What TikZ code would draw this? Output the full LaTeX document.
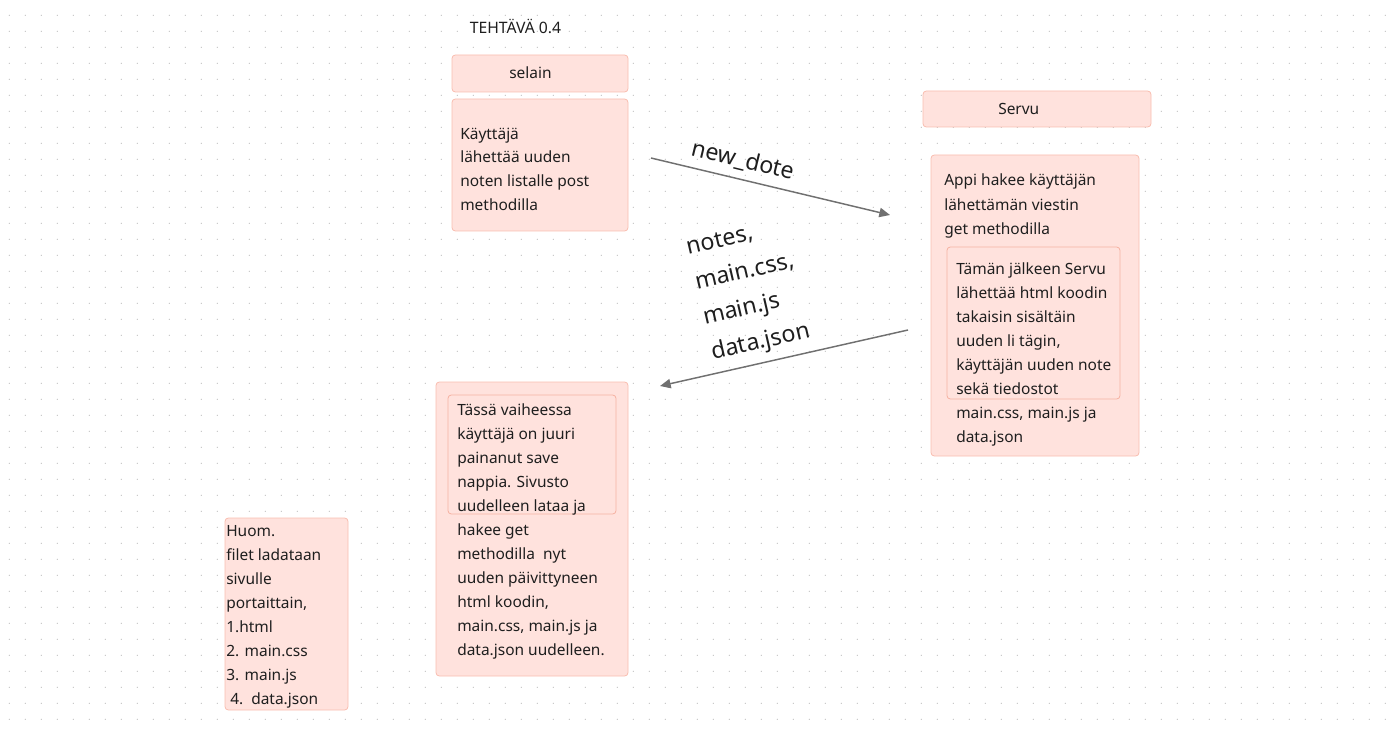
\documentclass[tikz,border=0pt]{standalone}
\usepackage{fontspec}
\setmainfont{Noto Sans}
\usetikzlibrary{fit,arrows.meta}
\definecolor{notefill}{RGB}{255,226,221}
\definecolor{noteline}{RGB}{249,190,176}
\definecolor{innerline}{RGB}{246,178,162}
\definecolor{inktext}{RGB}{30,30,30}
\definecolor{arrowgray}{RGB}{112,112,112}
\definecolor{griddot}{RGB}{196,196,196}
\tikzset{%
    note/.style={
      rectangle,
      draw=noteline,
      fill=notefill,
      line width=0.6pt,
      rounded corners=2.5pt,
      inner sep=0pt
    },
    inner note/.style={
      rectangle,
      draw=innerline,
      line width=0.6pt,
      rounded corners=2.5pt,
      inner sep=0pt
    },
    note text/.style={
      anchor=base west,
      align=left,
      inner sep=0pt,
      text=inktext,
      font=\fontsize{11.6pt}{18pt}\selectfont
    },
    flow label/.style={
      anchor=base west,
      align=left,
      inner sep=0pt,
      text=inktext,
      font=\fontsize{17.4pt}{27pt}\selectfont
    },
    flow/.style={
      ->,
      draw=arrowgray,
      line width=1.1pt
    }
  }

\begin{document}
\begin{tikzpicture}[x=0.75pt, y=-0.75pt, >={Triangle[length=8pt,width=7pt]}]
      \useasboundingbox (0,0) rectangle (1389,731);
      \foreach \i in {0,...,86}
        \foreach \j in {0,...,45}
          \fill [griddot] (9.3+16*\i, 15.3+16*\j) circle (0.5pt);

      % multi-line texts sit on the baseline of their last line
      \node [note text, font=\fontsize{11.8pt}{18pt}\selectfont] (title) at (469.5,33.3) {TEHTÄVÄ 0.4};

      \node [note, fit={(452,55) (628,92)}] (selain) {};
      \node [note text] (selaintxt) at (509,79) {selain};

      \node [note, fit={(452,99) (628,231)}] (kayttaja) {};
      \node [note text] (kayttajatxt) at (460,211) {Käyttäjä\\lähettää uuden\\noten listalle post\\methodilla};

      \node [note, fit={(923,91) (1151,127)}] (servu) {};
      \node [note text] (servutxt) at (998,114.7) {Servu};

      \node [note, fit={(931,155) (1139,456)}] (appi) {};
      \node [note text] (appitxt) at (944,234) {Appi hakee käyttäjän\\lähettämän viestin\\get methodilla};
      \node [inner note, fit={(947,247) (1120,399)}] (vastaus) {};
      \node [note text] (vastaustxt) at (956,442) {Tämän jälkeen Servu\\lähettää html koodin\\takaisin sisältäin\\uuden li tägin,\\käyttäjän uuden note\\sekä tiedostot\\main.css, main.js ja\\data.json};

      \node [note, fit={(436,382) (628,676)}] (tassa) {};
      \node [inner note, fit={(448,395) (616,514)}] (tallennus) {};
      \node [note text] (tassatxt) at (457,655) {Tässä vaiheessa\\käyttäjä on juuri\\painanut save\\nappia. Sivusto\\uudelleen lataa ja\\hakee get\\methodilla\ \ nyt\\uuden päivittyneen\\html koodin,\\main.css, main.js ja\\data.json uudelleen.};

      \node [note, fit={(225,518) (348,710)}] (huom) {};
      \node [note text] (huomtxt) at (226,704.7) {Huom.\\filet ladataan\\sivulle\\portaittain,\\1.html\\2. main.css\\3. main.js\\\hspace*{3pt}4.\hspace{6pt}data.json};

      \coordinate (post start) at (651,158);
      \coordinate (post end) at (890,215);
      \coordinate (get start) at (908,330);
      \coordinate (get end) at (660,386);

      \draw [flow] (post start) -- (post end);
      \draw [flow] (get start) -- (get end);

      \node [flow label, rotate=-13.6] (newdote) at (690,155) {new\_dote};
      \node [flow label, rotate=13] (tiedostot) at (713,360) {notes,\\main.css,\\main.js\\data.json};

    \end{tikzpicture}
\end{document}
